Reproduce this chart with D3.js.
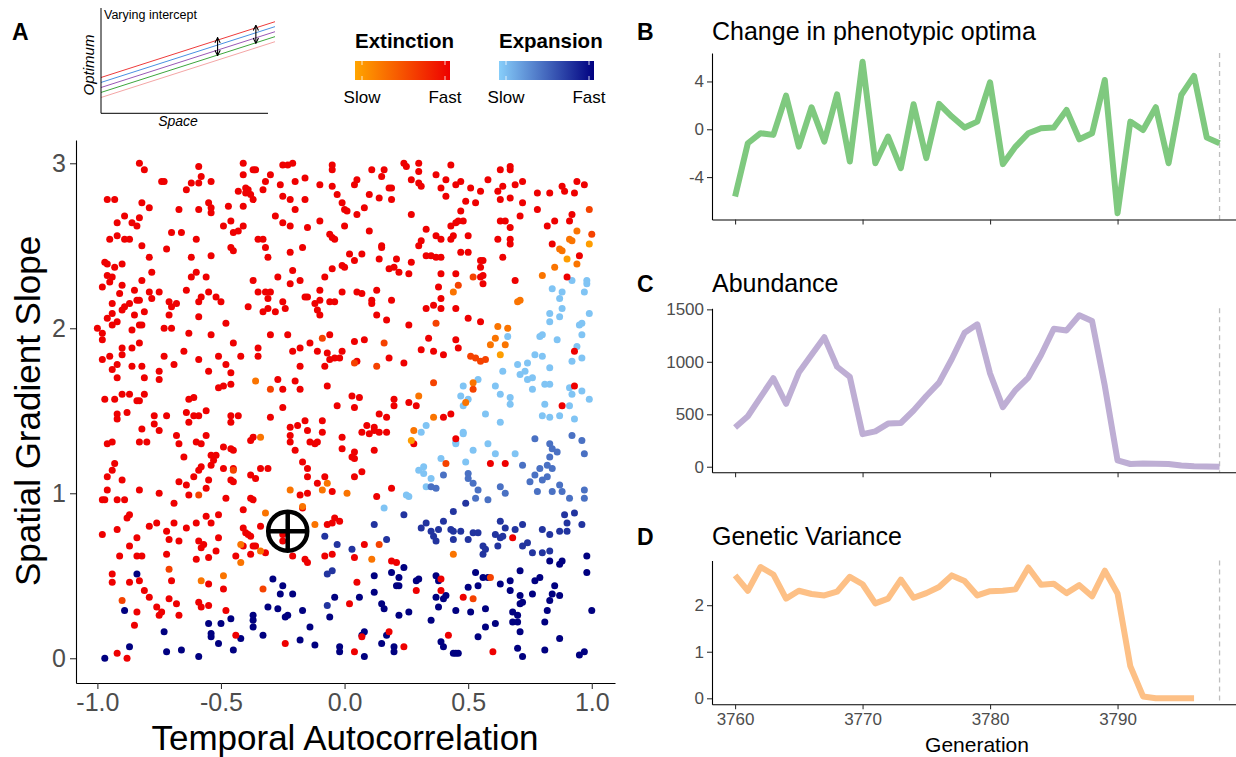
<!DOCTYPE html>
<html>
<head>
<meta charset="utf-8">
<script src="https://cdn.jsdelivr.net/npm/d3@7"></script>
<style>
  body { margin: 0; background: #fff; }
  text { font-family: "Liberation Sans", Arial, sans-serif; }
</style>
</head>
<body>
<svg id="fig" width="1236" height="757"></svg>
<script>
// ---------- data: panel A (temporal autocorrelation, spatial gradient slope) ----------
// extinction runs, by speed class (fast = red ... slow = orange)
let extFast = [
[-0.83,3.00],[-0.81,2.96],[-0.74,2.89],[-0.73,2.89],[-0.59,2.98],[-0.58,2.92],[-0.59,2.88],[-0.62,2.88],[-0.54,2.89],[-0.64,2.84],
[-0.41,3.00],[-0.41,2.93],[-0.37,2.96],[-0.36,2.96],[-0.30,2.93],[-0.32,2.89],[-0.33,2.84],[-0.25,2.99],[-0.23,2.99],[-0.21,3.00],
[-0.26,2.87],[-0.20,2.89],[-0.16,2.91],[-0.10,2.87],[-0.43,2.83],[-0.40,2.85],[-0.39,2.84],[-0.40,2.82],[-0.38,2.81],[-0.37,2.78],
[-0.41,2.74],[-0.96,2.78],[-0.93,2.78],[-0.82,2.76],[-0.79,2.73],[-0.89,2.68],[-0.86,2.64],[-0.84,2.62],[-0.83,2.67],[-0.92,2.64],
[-0.67,2.72],[-0.59,2.72],[-0.54,2.73],[-0.54,2.70],[-0.55,2.76],[-0.47,2.74],[-0.25,2.80],[-0.22,2.78],[-0.20,2.72],[-0.16,2.78],
[-0.28,2.68],[-0.25,2.64],[-0.22,2.62],[-0.15,2.61],[-0.10,2.65],[-0.95,2.54],[-0.92,2.56],[-0.89,2.54],[-0.87,2.54],[-0.82,2.50],
[-0.79,2.43],[-0.72,2.48],[-0.70,2.58],[-0.66,2.58],[-0.60,2.54],[-0.49,2.62],[-0.46,2.65],[-0.45,2.58],[-0.43,2.59],[-0.41,2.62],
[-0.46,2.49],[-0.45,2.47],[-0.35,2.54],[-0.33,2.54],[-0.32,2.49],[-0.31,2.43],[-0.54,2.44],[-0.62,2.43],[-0.22,2.46],[-0.17,2.49],
[-0.06,2.57],[-0.97,2.40],[-0.96,2.39],[-0.93,2.37],[-0.90,2.39],[-0.96,2.32],[-0.94,2.31],[-0.95,2.28],[-0.98,2.25],[-0.90,2.26],
[-0.91,2.21],[-0.94,2.15],[-0.94,2.09],[-0.96,2.06],[-0.90,2.11],[-0.89,2.13],[-0.87,2.15],[-0.85,2.23],[-0.84,2.17],[-0.83,2.17],
[-0.85,2.08],[-0.81,2.10],[-0.86,1.99],[-0.83,2.02],[-0.82,2.02],[-0.79,2.22],[-0.78,2.18],[-0.78,2.34],[-0.82,2.29],[-0.75,2.22],
[-0.64,2.23],[-0.62,2.31],[-0.60,2.34],[-0.56,2.31],[-0.59,2.16],[-0.58,2.19],[-0.55,2.22],[-0.52,2.19],[-0.50,2.16],[-0.59,2.07],
[-0.71,2.16],[-0.70,2.13],[-0.68,2.15],[-0.71,2.08],[-0.73,2.00],[-0.70,2.00],[-0.63,1.97],[-0.54,1.96],[-0.48,2.03],[-0.45,1.91],
[-0.39,2.13],[-0.37,2.29],[-0.35,2.22],[-0.32,2.22],[-0.30,2.22],[-0.31,2.18],[-0.33,2.10],[-0.31,2.12],[-0.28,2.10],[-0.25,2.16],
[-0.24,2.12],[-0.27,2.31],[-0.22,2.27],[-0.21,2.35],[-0.18,2.29],[-0.16,2.19],[-0.15,2.19],[-0.12,2.15],[-0.10,2.17],[-0.11,2.11],
[-0.10,2.08],[-0.10,2.23],[-0.06,2.16],[-0.04,2.16],[-0.01,2.22],[-0.01,2.38],[-0.08,2.31],[-0.05,2.36],
[-1.00,2.00],[-0.98,1.97],[-0.98,1.93],[-0.94,2.02],[-0.92,2.04],
[-0.30,1.96],[-0.23,1.96],[-0.21,1.86],[-0.18,1.88],[-0.14,1.91],[-0.11,1.86],[-0.06,1.96],[-0.07,1.85],[-0.06,1.81],[-0.08,1.77],
[-0.98,1.81],[-0.95,1.83],[-0.94,1.75],[-0.92,1.78],[-0.92,1.70],[-0.90,1.88],[-0.90,1.84],[-0.86,1.88],[-0.86,1.77],[-0.82,1.77],
[-0.83,1.91],[-0.81,1.70],[-0.75,1.74],[-0.75,1.69],[-0.73,1.83],[-0.69,1.78],[-0.65,1.86],[-0.59,1.81],[-0.55,1.74],[-0.51,1.83],
[-0.48,1.78],[-0.46,1.73],[-0.42,1.83],[-0.35,1.88],[-0.35,1.83],[-0.27,1.69],[-0.25,1.63],[-0.20,1.68],[-0.18,1.63],[-0.18,1.77],
[-0.07,1.65],[-0.97,1.57],[-0.93,1.57],[-0.90,1.60],[-0.87,1.60],[-0.84,1.56],[-0.83,1.56],[-0.81,1.60],[-0.63,1.57],[-0.61,1.58],
[-0.51,1.64],[-0.49,1.65],[-0.46,1.66],
[-0.05,2.99],[-0.05,2.96],[0.11,2.96],[0.16,2.96],[0.24,3.00],[0.25,2.98],[0.30,3.00],[0.30,2.95],[0.27,2.90],[0.30,2.88],
[0.31,2.86],[0.37,2.93],[0.41,2.90],[0.43,2.99],[0.39,2.85],[0.41,2.80],[0.45,2.87],[0.47,2.89],[0.51,2.85],[0.55,2.83],
[0.58,2.90],[0.63,2.96],[0.67,2.98],[0.67,2.96],[0.64,2.86],[0.62,2.83],[0.63,2.78],[0.67,2.79],[0.69,2.87],[0.72,2.89],
[0.72,2.76],[0.78,2.82],[0.83,2.82],[0.88,2.86],[0.89,2.83],[0.93,2.82],[0.94,2.89],[0.97,2.87],[0.78,2.72],[0.71,2.68],
[0.92,2.69],[-0.05,2.86],[-0.03,2.81],[-0.01,2.76],[0.00,2.72],[0.01,2.71],[0.05,2.69],[0.08,2.73],[0.10,2.81],[0.14,2.79],
[0.19,2.78],[0.15,2.92],[0.18,2.85],[0.19,2.85],[0.04,2.87],[0.05,2.90],[0.27,2.69],[0.49,2.77],[0.53,2.76],[0.47,2.71],
[0.33,2.60],[0.00,2.62],[0.10,2.59],[-0.05,2.55],[-0.04,2.54],[0.45,2.64],[0.43,2.62],[0.46,2.65],[0.48,2.65],[0.50,2.56],
[0.43,2.54],[0.44,2.56],[0.37,2.56],[0.39,2.54],[0.31,2.53],[0.30,2.50],[0.15,2.50],[0.15,2.49],[0.47,2.46],[0.50,2.46],
[0.63,2.65],[0.65,2.65],[0.67,2.61],[0.62,2.54],[0.67,2.54],[0.67,2.51],[0.64,2.43],[0.82,2.62],[0.85,2.65],[0.91,2.65],
[0.84,2.51],[0.95,2.44],[0.90,2.31],[0.02,2.45],[0.07,2.45],[0.04,2.41],[0.14,2.42],[0.21,2.42],[0.27,2.40],[0.18,2.36],
[0.20,2.37],[0.22,2.34],[0.26,2.33],[0.00,2.37],[0.33,2.44],[0.35,2.44],[0.37,2.43],[0.39,2.43],[0.39,2.33],[0.45,2.33],
[0.55,2.41],[0.56,2.41],[0.55,2.37],[0.55,2.31],[0.56,2.32],[0.56,2.27],[0.38,2.25],[0.39,2.18],[0.36,2.14],[0.39,2.12],
[0.33,2.12],[0.45,2.12],[0.50,2.06],[0.55,2.04],[0.69,2.29],[0.05,2.22],[0.07,2.21],[0.13,2.23],[0.11,2.17],
[0.11,2.15],[0.19,2.17],[0.13,2.08],[0.17,2.05],[0.26,2.02],[0.34,1.94],[0.31,1.87],[0.36,1.86],[0.40,1.84],[0.45,1.93],
[0.46,1.88],[0.04,1.92],[0.08,1.93],[0.18,1.82],[0.24,1.79],[0.05,1.80],[-0.04,1.82],[-0.02,1.82],[-0.01,1.86],[0.20,1.57],
[0.20,1.53],[0.26,1.55],[0.29,1.53],[-0.03,1.53],[0.03,1.59],[0.06,1.58],[0.93,1.86],[0.93,1.65],[0.88,1.53],
[-0.92,1.48],[-0.92,1.45],[-0.88,1.49],[-0.82,1.39],[-0.83,1.31],[-0.80,1.31],[-0.77,1.47],[-0.77,1.42],[-0.75,1.38],[-0.72,1.47],
[-0.68,1.35],[-0.67,1.30],[-0.65,1.22],[-0.64,1.49],[-0.63,1.43],[-0.61,1.47],[-0.59,1.47],[-0.56,1.50],[-0.56,1.35],[-0.60,1.31],
[-0.58,1.30],[-0.54,1.23],[-0.52,1.23],[-0.49,1.28],[-0.46,1.47],[-0.46,1.43],[-0.43,1.47],[-0.46,1.27],[-0.45,1.26],[-0.45,1.15],
[-0.45,1.07],[-0.38,1.32],[-0.37,1.34],[-0.30,1.46],[-0.25,1.52],[-0.22,1.40],[-0.19,1.41],[-0.16,1.44],[-0.15,1.38],[-0.14,1.31],
[-0.11,1.31],[-0.09,1.44],[-0.09,1.37],[-0.12,1.30],[-0.22,1.35],[-0.22,1.31],[-0.20,1.26],[-0.17,1.19],[-0.15,1.10],[-0.15,1.15],
[-0.11,1.06],[-0.08,1.10],[-0.96,1.30],[-0.94,1.31],[-0.93,1.18],[-0.94,1.14],[-0.96,1.10],[-0.96,1.02],[-0.90,1.08],[-0.83,1.02],
[-0.75,1.00],[-0.69,0.94],[-0.67,1.07],[-0.64,1.05],[-0.63,0.99],[-0.61,1.10],[-0.58,1.16],[-0.59,1.14],[-0.55,1.08],[-0.56,1.03],
[-0.54,1.17],[-0.53,1.20],[-0.49,1.15],[-0.48,0.97],[-0.46,1.08],[-0.41,0.90],[-0.38,1.11],[-0.36,1.09],[-0.34,1.15],[-0.31,1.15],
[-0.38,0.97],[-0.37,0.96],[-0.18,0.99],[-0.15,1.00],[-0.98,0.96],[-0.97,0.96],[-0.92,0.96],[-0.89,0.96],[-0.88,0.85],[-0.87,0.87],
[-0.79,0.80],[-0.76,0.82],[-0.72,0.77],[-0.69,0.82],[-0.64,0.79],[-0.60,0.82],[-0.56,0.86],[-0.54,0.82],[-0.51,0.87],[-0.98,0.75],
[-0.92,0.78],[-0.87,0.68],[-0.84,0.73],[-0.84,0.62],[-0.82,0.62],[-0.71,0.72],[-0.72,0.63],[-0.67,0.71],[-0.59,0.71],[-0.58,0.67],
[-0.57,0.69],[-0.51,0.73],[-0.52,0.65],[-0.60,0.60],[-0.55,0.61],[-0.41,0.79],[-0.40,0.76],[-0.39,0.75],[-0.38,0.74],[-0.44,0.62],
[-0.41,0.68],[-0.38,0.63],[-0.37,0.68],[-0.36,0.68],[-0.34,0.80],[-0.32,0.64],[-0.25,0.71],[-0.25,0.75],[-0.21,0.62],[-0.16,0.60],
[-0.15,0.58],[-0.17,0.91],[-0.07,0.81],[-0.08,0.62],[-0.94,0.51],[-0.94,0.46],[-0.91,0.62],[-0.87,0.46],[-0.83,0.47],[-0.81,0.41],
[-0.79,0.37],[-0.76,0.31],[-0.75,0.26],[-0.74,0.28],[-0.70,0.47],[-0.71,0.36],[-0.68,0.33],[-0.67,0.26],[-0.59,0.34],[-0.58,0.31],
[-0.55,0.45],[-0.55,0.32],[-0.49,0.42],[-0.48,0.29],[-0.44,0.14],[-0.84,0.28],[-0.85,0.20],[-0.24,0.09],[-0.92,0.03],[-0.88,0.00],
[0.04,1.52],[0.40,1.46],[0.43,1.48],[0.14,1.48],[0.17,1.46],[0.09,1.41],[0.12,1.40],[0.12,1.38],[0.14,1.37],[0.17,1.37],
[0.07,1.37],[0.10,1.36],[0.28,1.30],[-0.01,1.34],[-0.01,1.27],[0.04,1.25],[0.03,1.22],[0.04,1.21],[0.12,1.26],[0.07,1.13],
[0.04,1.10],[-0.05,1.01],[0.13,0.98],[0.19,1.03],[0.45,1.33],[0.59,1.18],[0.65,1.18],[-0.04,0.85],[-0.02,0.83],[-0.05,0.82],
[0.08,0.69],[0.04,0.61],[-0.05,0.63],[0.19,0.59],[0.21,0.58],[0.05,0.46],[0.02,0.33],[0.07,0.13],[0.18,0.16],[0.24,0.07],
[0.04,0.04],[0.29,0.41],[0.39,0.48],[0.39,0.41],[0.42,0.14],[0.48,0.37],[0.68,0.73],[0.60,0.04]
];
let extMid = [
[0.99,2.72],[1.00,2.57],[0.52,2.31],[0.46,2.26],[0.37,2.03],[0.51,1.83],[0.53,1.82],[0.55,1.80],[0.57,1.81],[0.16,1.91],
[0.13,1.77],[0.36,1.67],[0.52,1.63],[0.04,1.79],[-0.30,1.63],[-0.09,1.94],[-0.59,0.99],[-0.45,1.14],[-0.71,0.54],[-0.90,0.35],
[-0.33,0.42],[0.41,1.18],[0.14,0.69],[0.52,0.36],[0.59,0.49]
];
let extSlow = [
[0.94,2.59],[0.87,2.48],[0.88,2.47],[0.91,2.54],[0.92,2.53],[0.94,2.39],[0.85,2.37],[0.80,2.32],[0.44,2.22],[0.62,2.01],
[0.66,2.00],[0.61,1.94],[0.59,1.90],[0.65,1.90],[0.70,2.16],[0.71,2.17],[0.30,1.59],[0.52,1.67],[0.49,1.55],[-0.36,1.68],
[-0.34,1.34],[-0.32,0.88],[-0.22,1.02],[-0.17,0.92],[-0.09,1.02],[-0.07,1.06],[-0.42,0.69],[-0.34,0.65],[-0.12,0.81],[-0.42,0.58],
[-0.58,0.47],[-0.49,0.50],[0.36,1.46],[0.28,1.38],[0.01,1.00],[0.11,0.60],[0.44,0.63]
];
let extSlowest = [[0.90,2.42],[0.99,2.51],[0.63,1.84],[0.27,1.32]];

// expansion runs, by speed class (slow = light blue ... fast = navy)
let expSlow = [
[0.84,2.24],[0.88,2.22],[0.87,2.18],[0.92,2.29],[0.98,2.29],[0.98,2.27],[0.97,2.22],[0.88,2.12],[0.83,2.09],[0.83,2.04],
[0.87,2.07],[0.99,2.09],[0.95,2.02],[0.96,2.03],[0.96,1.96],[0.94,1.89],[0.92,1.80],[0.96,1.82],[0.79,1.95],[0.80,1.96],
[0.86,1.93],[0.77,1.84],[0.80,1.83],[0.83,1.76],[0.74,1.79],[0.70,1.78],[0.71,1.72],[0.73,1.74],[0.74,1.69],[0.76,1.70],
[0.76,1.63],[0.81,1.66],[0.83,1.66],[0.66,1.95],[0.64,1.74],[0.61,1.65],[0.63,1.60],[0.67,1.58],[0.67,1.54],[0.54,1.69],
[0.48,1.65],[0.47,1.59],[0.48,1.53],[0.50,1.57],[0.81,1.54],[0.92,1.60],[0.96,1.62],[0.99,1.57],[0.91,1.53],[0.91,1.64],
[0.33,1.41],[0.31,1.37],[0.48,1.37],[0.48,1.36],[0.45,1.31],[0.45,1.30],[0.57,1.48],[0.63,1.43],[0.80,1.47],[0.83,1.46],
[0.87,1.47],[0.93,1.45],[0.58,1.30],[0.52,1.26],[0.61,1.24],[0.69,1.24],[0.49,1.19],[0.39,1.21],[0.32,1.16],[0.30,1.14],
[0.32,1.12],[0.35,1.09],[0.33,1.04],[0.16,0.91],[0.25,0.99],[0.26,0.98]
];
let expMid = [
[0.77,1.33],[0.92,1.35],[0.96,1.32],[0.83,1.30],[0.84,1.27],[0.86,1.25],[0.97,1.24],[0.83,1.22],[0.72,1.17],[0.82,1.17],
[0.84,1.15],[0.79,1.15],[0.40,1.11],[0.37,1.03],[0.35,1.04],[0.50,1.12],[0.50,1.09],[0.52,1.06],[0.54,1.02],[0.53,0.97],
[0.58,0.96],[0.63,1.04],[0.65,1.00],[0.77,1.11],[0.80,1.08],[0.82,1.10],[0.75,1.07],[0.78,1.01],[0.84,1.01],[0.87,1.05],
[0.88,1.01],[0.91,0.97],[0.97,1.02],[0.97,0.97]
];
let expMidFast = [
[0.49,0.94],[0.44,0.89],[0.93,0.88],[0.89,0.87],[0.90,0.82],[0.96,0.81],[0.31,0.79],[0.33,0.82],[0.35,0.77],[0.36,0.74],
[0.37,0.71],[0.38,0.78],[0.40,0.83],[0.43,0.78],[0.44,0.77],[0.47,0.77],[0.44,0.72],[0.50,0.72],[0.52,0.76],[0.54,0.76],
[0.56,0.68],[0.56,0.63],[0.57,0.66],[0.61,0.75],[0.62,0.68],[0.63,0.83],[0.65,0.79],[0.69,0.78],[0.72,0.81],[0.63,0.73],
[0.64,0.74],[0.72,0.68],[0.74,0.70],[0.76,0.64],[0.80,0.78],[0.83,0.75],[0.80,0.64],[0.83,0.65],[0.87,0.77],[0.90,0.77],
[0.24,0.87],[0.12,0.81],[0.17,0.72],[0.03,0.66],[-0.03,0.69],[-0.05,0.53],[-0.07,0.32],[-0.07,0.51],[-0.08,0.74]
];
let expFast = [
[-0.97,0.00],[-0.87,0.07],[-0.89,0.29],[-0.84,0.51],[-0.73,0.16],[-0.72,0.04],[-0.66,0.05],[-0.59,0.01],[-0.55,0.21],[-0.54,0.15],
[-0.54,0.13],[-0.51,0.09],[-0.50,0.21],[-0.46,0.24],[-0.45,0.05],[-0.42,0.12],[-0.37,0.26],[-0.37,0.23],[-0.37,0.19],[-0.33,0.14],
[-0.31,0.31],[-0.29,0.48],[-0.27,0.30],[-0.26,0.39],[-0.25,0.44],[-0.24,0.25],[-0.23,0.26],[-0.21,0.39],[-0.18,0.11],[-0.17,0.29],
[-0.14,0.19],[-0.12,0.08],
[0.53,0.52],[0.56,0.49],[0.58,0.49],[0.54,0.44],[0.50,0.43],[0.63,0.45],[0.67,0.47],[0.71,0.53],[0.77,0.47],[0.79,0.49],
[0.85,0.44],[0.67,0.41],[0.71,0.38],[0.72,0.34],[0.71,0.33],[0.76,0.39],[0.84,0.39],[0.83,0.35],[0.87,0.38],[0.88,0.59],
[0.87,0.57],[0.83,0.59],[0.98,0.62],[0.98,0.52],[1.00,0.29],[0.82,0.29],[0.57,0.30],[0.51,0.28],[0.45,0.29],[0.35,0.23],
[0.41,0.38],[0.40,0.36],[0.37,0.37],[0.38,0.31],[0.68,0.28],[0.70,0.26],[0.68,0.22],[0.70,0.22],[0.71,0.16],[0.61,0.21],
[0.57,0.19],[0.54,0.13],[0.81,0.22],[0.87,0.12],[0.45,0.03],[0.46,0.03],[0.44,0.03],[0.39,0.10],[0.40,0.07],[0.20,0.07],
[0.20,0.04],[0.15,0.09],[0.17,0.14],[0.08,0.16],[0.07,0.14],[0.08,0.01],[-0.02,0.07],[-0.02,0.04],[0.70,0.06],[0.72,0.01],
[0.81,0.05],[0.95,0.02],[0.97,0.04],[-0.04,0.37],[-0.06,0.25],[0.06,0.37],[0.12,0.40],[0.15,0.33],[0.16,0.30],[0.22,0.26],
[0.26,0.28],[0.19,0.52],[0.22,0.49],[0.21,0.44],[0.22,0.44],[0.24,0.55],[0.12,0.50],[0.29,0.47],[0.30,0.48],[0.37,0.50],
[0.38,0.47]
];
let extinctionSpeed = [1, 0.6, 0.3, 0.05];       // fast .. slow
let expansionSpeed = [0.05, 0.45, 0.75, 1];      // slow .. fast
let focalRun = [-0.23, 0.77];

// ---------- data: panels B-D (one run through time) ----------
let generations = [3760,3761,3762,3763,3764,3765,3766,3767,3768,3769,3770,3771,3772,3773,3774,3775,3776,3777,3778,3779,
                   3780,3781,3782,3783,3784,3785,3786,3787,3788,3789,3790,3791,3792,3793,3794,3795,3796,3797,3798];
let optimaChange = [-5.63,-1.17,-0.33,-0.47,2.81,-1.45,1.84,-1.03,2.92,-2.70,5.65,-2.84,-0.61,-3.26,2.09,-2.42,2.12,1.06,0.14,0.64,
                    3.93,-2.92,-1.45,-0.33,0.08,0.14,1.62,-0.84,-0.33,4.12,-7.02,0.64,-0.06,1.84,-2.84,2.87,4.46,-0.70,-1.17];
let abundance = [375,481,664,844,600,898,1068,1235,953,857,311,337,411,417,536,674,802,1027,1277,1357,
                 889,568,731,850,1065,1315,1299,1444,1389,770,60,26,32,29,26,12,5,3,1];
let geneticVar = [2.64,2.31,2.82,2.66,2.14,2.31,2.24,2.21,2.29,2.61,2.45,2.04,2.14,2.55,2.16,2.26,2.39,2.64,2.52,2.21,
                  2.30,2.31,2.34,2.81,2.44,2.46,2.26,2.43,2.19,2.74,2.25,0.69,0.04,0.00,0.00,0.00,0.00];
let extinctionGen = 3798;

// inset: parallel optima with varying intercept
let insetIntercepts = [3.4, 2.93, 2.45, 1.98, 1.5];
let insetColors = ['#EE3B3B', '#4A90E2', '#9B59B6', '#3DA63D', '#F4A6A6'];
let insetSlope = 5.3;
let insetArrows = [0.67, 0.89];

let svg = d3.select('#fig');
let tickGrey = '#4D4D4D';

function styleAxis(g, size) {
  g.select('.domain').attr('stroke', '#000').attr('stroke-width', 1.1);
  g.selectAll('.tick line').attr('stroke', '#333').attr('stroke-width', 1.1);
  g.selectAll('.tick text').attr('fill', tickGrey).attr('font-size', size)
   .attr('font-family', '"Liberation Sans", Arial, sans-serif');
}

// ================= panel A =================
let x = d3.scaleLinear().domain([-1.0865, 1.094]).range([76, 615]);
let y = d3.scaleLinear().domain([-0.15, 3.141]).range([683, 140]);
let extColor = d3.scaleLinear().domain([0, 1]).range(['#FFA500', '#EE0000']);
let expColor = d3.scaleLinear().domain([0, 1]).range(['#87CEFA', '#000080']);

let points = [];
[expSlow, expMid, expMidFast, expFast].forEach((grp, i) => {
  grp.forEach(p => points.push({x: p[0], y: p[1], c: expColor(expansionSpeed[i])}));
});
[extFast, extMid, extSlow, extSlowest].forEach((grp, i) => {
  grp.forEach(p => points.push({x: p[0], y: p[1], c: extColor(extinctionSpeed[i])}));
});

svg.append('g').selectAll('circle')
   .data(points)
   .enter()
   .append('circle')
   .attr('cx', d => x(d.x))
   .attr('cy', d => y(d.y))
   .attr('r', 3.5)
   .attr('fill', d => d.c)

let focal = svg.append('g')
   .attr('transform', 'translate(' + x(focalRun[0]) + ',' + y(focalRun[1]) + ')')
   .attr('fill', 'none').attr('stroke', '#000').attr('stroke-width', 4.5);
focal.append('circle').attr('r', 19.5);
focal.append('line').attr('x1', -19.5).attr('x2', 19.5);
focal.append('line').attr('y1', -19.5).attr('y2', 19.5);

let xAxis = svg.append('g').attr('transform', 'translate(0,683)')
   .call(d3.axisBottom(x).tickValues([-1, -0.5, 0, 0.5, 1]).tickFormat(d => d.toFixed(1))
   .tickSize(6).tickSizeOuter(0).tickPadding(4));
styleAxis(xAxis, 25);
let yAxis = svg.append('g').attr('transform', 'translate(76,0)')
   .call(d3.axisLeft(y).tickValues([0, 1, 2, 3]).tickFormat(d => d)
   .tickSize(6).tickSizeOuter(0).tickPadding(4));
styleAxis(yAxis, 25);

svg.append('text').attr('x', 345).attr('y', 750).attr('text-anchor', 'middle')
   .attr('font-size', 35).text('Temporal Autocorrelation');
svg.append('text').attr('transform', 'translate(40,411) rotate(-90)').attr('text-anchor', 'middle')
   .attr('font-size', 35).text('Spatial Gradient Slope');

// legend colour bars
let defs = svg.append('defs');
let legends = [
  {title: 'Extinction', x0: 355, x1: 450, from: extColor(0), to: extColor(1), id: 'gExt'},
  {title: 'Expansion', x0: 499, x1: 594, from: expColor(0), to: expColor(1), id: 'gExp'}
];
legends.forEach(l => {
  let grad = defs.append('linearGradient').attr('id', l.id);
  grad.append('stop').attr('offset', '0%').attr('stop-color', l.from);
  grad.append('stop').attr('offset', '100%').attr('stop-color', l.to);
  svg.append('text').attr('x', l.x0).attr('y', 48).attr('font-size', 20.5).attr('font-weight', 'bold').text(l.title);
  svg.append('rect').attr('x', l.x0).attr('y', 61).attr('width', l.x1 - l.x0).attr('height', 19)
     .attr('fill', 'url(#' + l.id + ')');
  let lx = d3.scaleLinear().domain([0, 1]).range([l.x0 + 7, l.x1 - 5]);
  [0, 1].forEach(v => {
    svg.append('line').attr('x1', lx(v)).attr('x2', lx(v)).attr('y1', 61).attr('y2', 65)
       .attr('stroke', '#fff').attr('stroke-width', 0.8);
    svg.append('line').attr('x1', lx(v)).attr('x2', lx(v)).attr('y1', 76).attr('y2', 80)
       .attr('stroke', '#fff').attr('stroke-width', 0.8);
  });
  svg.append('text').attr('x', lx(0)).attr('y', 103).attr('text-anchor', 'middle').attr('font-size', 17).text('Slow');
  svg.append('text').attr('x', lx(1)).attr('y', 103).attr('text-anchor', 'middle').attr('font-size', 17).text('Fast');
});

// inset schematic
let ix = d3.scaleLinear().domain([0, 1]).range([101, 275]);
let iy = d3.scaleLinear().domain([0, 10]).range([113.3, 8]);
let inset = svg.append('g');
inset.selectAll('line.opt')
   .data(insetIntercepts)
   .enter()
   .append('line')
   .attr('class', 'opt')
   .attr('x1', ix(0)).attr('x2', ix(1))
   .attr('y1', d => iy(d)).attr('y2', d => iy(d + insetSlope))
   .attr('stroke', (d, i) => insetColors[i]).attr('stroke-width', 1);
inset.append('path').attr('d', 'M101,8 V113.3 H268').attr('fill', 'none').attr('stroke', '#000').attr('stroke-width', 1);
defs.append('marker').attr('id', 'head').attr('viewBox', '0 0 10 10').attr('refX', 9).attr('refY', 5)
   .attr('markerWidth', 6).attr('markerHeight', 6).attr('orient', 'auto-start-reverse')
   .append('path').attr('d', 'M1,1 L9,5 L1,9').attr('fill', 'none').attr('stroke', '#000').attr('stroke-width', 1.6);
insetArrows.forEach(s => {
  inset.append('line').attr('x1', ix(s)).attr('x2', ix(s))
     .attr('y1', iy(insetIntercepts[0] + insetSlope * s) - 2.5)
     .attr('y2', iy(insetIntercepts[3] + insetSlope * s) + 0.5)
     .attr('stroke', '#000').attr('stroke-width', 1.1)
     .attr('marker-start', 'url(#head)').attr('marker-end', 'url(#head)');
});
inset.append('text').attr('x', 104).attr('y', 19).attr('font-size', 12.5).text('Varying intercept');
inset.append('text').attr('transform', 'translate(94,65) rotate(-90)').attr('text-anchor', 'middle')
   .attr('font-size', 15).attr('font-style', 'italic').text('Optimum');
inset.append('text').attr('x', 178).attr('y', 126).attr('text-anchor', 'middle')
   .attr('font-size', 14).attr('font-style', 'italic').text('Space');

// panel letters
[['A', 12, 40], ['B', 637, 40], ['C', 637, 292], ['D', 637, 545]].forEach(l => {
  svg.append('text').attr('x', l[1]).attr('y', l[2]).attr('font-size', 23).attr('font-weight', 'bold').text(l[0]);
});

// ================= panels B-D =================
let gx = d3.scaleLinear().domain([3758.19, 3799.29]).range([712, 1236]);
let panels = [
  {title: 'Change in phenotypic optima', values: optimaChange, color: '#7FC97F', top: 53, bottom: 219.5,
   domain: [-7.55, 6.38], ticks: [-4, 0, 4], titleY: 40, labels: false},
  {title: 'Abundance', values: abundance, color: '#BEAED4', top: 308.3, bottom: 472.3,
   domain: [-53, 1510], ticks: [0, 500, 1000, 1500], titleY: 292, labels: false},
  {title: 'Genetic Variance', values: geneticVar, color: '#FDC086', top: 560.5, bottom: 704.3,
   domain: [-0.129, 2.96], ticks: [0, 1, 2], titleY: 545, labels: true}
];

panels.forEach(p => {
  let py = d3.scaleLinear().domain(p.domain).range([p.bottom, p.top]);
  let g = svg.append('g');
  g.append('line').attr('x1', gx(extinctionGen)).attr('x2', gx(extinctionGen))
   .attr('y1', p.top).attr('y2', p.bottom)
   .attr('stroke', '#BEBEBE').attr('stroke-width', 1.3).attr('stroke-dasharray', '5,4');
  let line = d3.line().x((d, i) => gx(generations[i])).y(d => py(d));
  g.append('path').datum(p.values).attr('d', line)
   .attr('fill', 'none').attr('stroke', p.color).attr('stroke-width', 6)
   .attr('stroke-linejoin', 'round').attr('stroke-linecap', 'butt');
  let ax = g.append('g').attr('transform', 'translate(0,' + p.bottom + ')')
   .call(d3.axisBottom(gx).tickValues([3760, 3770, 3780, 3790]).tickSize(5).tickSizeOuter(0).tickPadding(4)
   .tickFormat(d => p.labels ? d : ''));
  styleAxis(ax, 17);
  let ay = g.append('g').attr('transform', 'translate(712,0)')
   .call(d3.axisLeft(py).tickValues(p.ticks).tickFormat(d => d).tickSize(5).tickSizeOuter(0).tickPadding(3));
  styleAxis(ay, 17);
  svg.append('text').attr('x', 712).attr('y', p.titleY).attr('font-size', 25).text(p.title);
});
svg.append('text').attr('x', 977).attr('y', 752).attr('text-anchor', 'middle').attr('font-size', 21).text('Generation');
</script>
</body>
</html>
